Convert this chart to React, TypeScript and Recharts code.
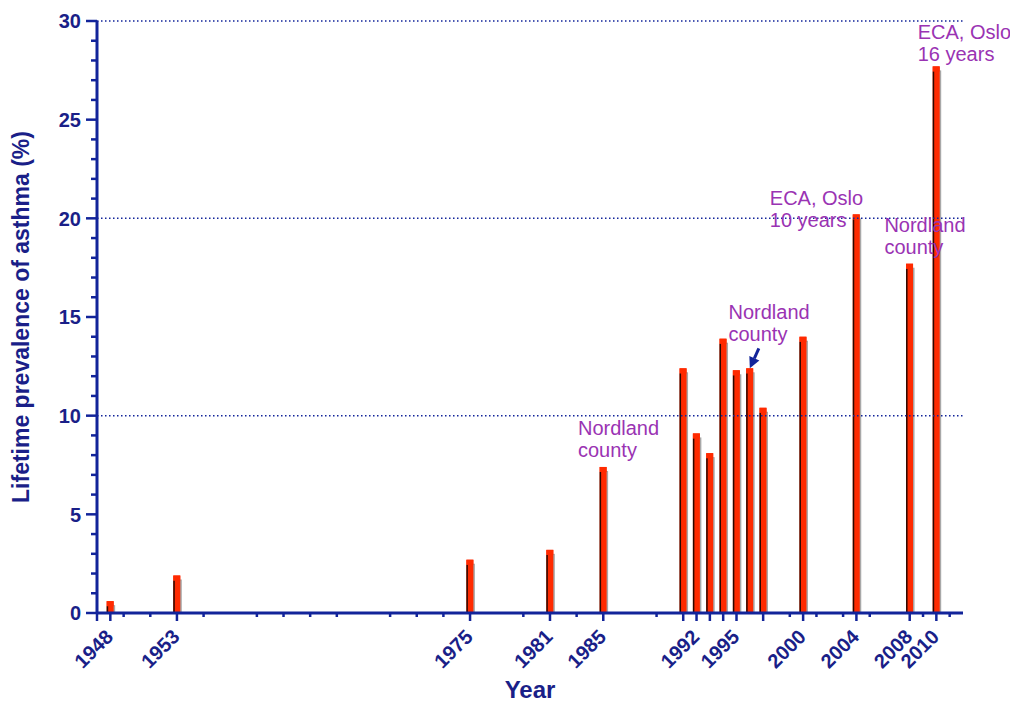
import {
  BarChart,
  Bar,
  XAxis,
  YAxis,
  ReferenceLine,
  ReferenceDot,
  Label,
} from "recharts";

// survey years and lifetime asthma prevalence (%)
const years = [1948, 1953, 1975, 1981, 1985, 1991, 1992, 1993, 1994, 1995, 1996, 1997, 2000, 2004, 2008, 2010];
const prevalence = [0.6, 1.9, 2.7, 3.2, 7.4, 12.4, 9.1, 8.1, 13.9, 12.3, 12.4, 10.4, 14.0, 20.2, 17.7, 27.7];

const labeledYears = [1948, 1953, 1975, 1981, 1985, 1992, 1995, 2000, 2004, 2008, 2010];
const majorTickYears = [1947, 1948, 1953, 1975, 1981, 1985, 1991, 1992, 1993, 1994, 1995, 1997, 2000, 2004, 2008, 2010];
const minorTickYears = [1949, 1951, 1955, 1959, 1961, 1963, 1965, 1969, 1971, 1973, 1979, 1983, 1989, 1999, 2001, 2003, 2005, 2009, 2011];
const yTicks = Array.from({ length: 31 }, (_, i) => i);
const gridValues = [10, 20, 30];

const notes = [
  { year: 1983.1, value: 9.0, lines: ["Nordland", "county"] },
  { year: 1994.4, value: 14.9, lines: ["Nordland", "county"] },
  { year: 1997.5, value: 20.7, lines: ["ECA, Oslo", "10 years"] },
  { year: 2006.1, value: 19.3, lines: ["Nordland", "county"] },
  { year: 2008.6, value: 29.1, lines: ["ECA, Oslo", "16 years"] },
];
const arrowTarget = { year: 1996, value: 12.4 };

const data = years.map((year, i) => ({ year, value: prevalence[i] }));
const xTicks = [...majorTickYears, ...minorTickYears].sort((a, b) => a - b);

const NAVY = "#12249a";
const TEXT = "#1a1f88";
const RED = "#ff2a00";
const PURPLE = "#9a33b3";
const FONT = "'Liberation Sans', Arial, sans-serif";

function BarShape(props: any) {
  const { x, y, width, height } = props;
  if (!height || height <= 0) return null;
  return (
    <g>
      <rect x={x + 1.5} y={y + 4} width={width} height={height - 4} fill="#a8a8a8" />
      <rect x={x} y={y} width={width} height={height} fill={RED} />
      <rect x={x} y={y + 5} width={1.5} height={height - 5} fill="#2a0800" />
      <rect x={x} y={y} width={width} height={5} fill={RED} />
    </g>
  );
}

function YTick(props: any) {
  const { x, y, payload } = props;
  const major = payload.value % 5 === 0;
  return (
    <g>
      <line x1={x - (major ? 11 : 6)} x2={x} y1={y} y2={y} stroke={NAVY} strokeWidth={2.5} />
      {major && (
        <text x={x - 16} y={y} dy="0.36em" textAnchor="end" fill={TEXT}
          style={{ fontFamily: FONT, fontWeight: 700, fontSize: 20 }}>
          {payload.value}
        </text>
      )}
    </g>
  );
}

function XTick(props: any) {
  const { x, y, payload } = props;
  const year = payload.value;
  const major = majorTickYears.includes(year);
  const labeled = labeledYears.includes(year);
  const tx = x + 4;
  const ty = y + 25;
  return (
    <g>
      <line x1={x} x2={x} y1={y} y2={y + (major ? 8 : 4)} stroke={NAVY} strokeWidth={2.5} />
      {labeled && (
        <text x={tx} y={ty} textAnchor="end" fill={TEXT} transform={`rotate(-45, ${tx}, ${ty})`}
          style={{ fontFamily: FONT, fontWeight: 700, fontSize: 20 }}>
          {year}
        </text>
      )}
    </g>
  );
}

function NoteShape(lines: string[]) {
  return (props: any) => {
    const { cx, cy } = props;
    return (
      <text x={cx} y={cy} fill={PURPLE} style={{ fontFamily: FONT, fontSize: 20 }}>
        {lines.map((t, i) => (
          <tspan key={i} x={cx} dy={i === 0 ? 0 : 22}>
            {t}
          </tspan>
        ))}
      </text>
    );
  };
}

function ArrowShape(props: any) {
  const { cx, cy } = props;
  const sx = cx + 9;
  const sy = cy - 20;
  const len = Math.hypot(sx - cx, sy - cy);
  const ux = (cx - sx) / len;
  const uy = (cy - sy) / len;
  const hb = 11;
  const hw = 5.5;
  const bx = cx - ux * hb;
  const by = cy - uy * hb;
  return (
    <g>
      <line x1={sx} y1={sy} x2={bx} y2={by} stroke={NAVY} strokeWidth={3} />
      <polygon
        points={`${cx},${cy} ${bx - uy * hw},${by + ux * hw} ${bx + uy * hw},${by - ux * hw}`}
        fill={NAVY}
      />
    </g>
  );
}

export default function App() {
  return (
    <div style={{ width: 1010, height: 702 }}>
      <style>{"body{margin:0;overflow:hidden}"}</style>
      <BarChart
        width={1010}
        height={702}
        data={data}
        margin={{ top: 21, right: 47, bottom: 29, left: 0 }}
      >
        {gridValues.map((v) => (
          <ReferenceLine key={v} y={v} stroke={NAVY} strokeWidth={1.5} strokeDasharray="1.5 2.5" />
        ))}
        <XAxis
          dataKey="year"
          type="number"
          domain={[1947, 2012]}
          ticks={xTicks}
          interval={0}
          height={60}
          tickSize={0}
          tickMargin={0}
          tickLine={false}
          tick={(p: any) => <XTick {...p} />}
          axisLine={{ stroke: NAVY, strokeWidth: 3 }}
        >
          <Label
            value="Year"
            position="bottom"
            offset={8}
            fill={TEXT}
            style={{ fontFamily: FONT, fontWeight: 700, fontSize: 24 }}
          />
        </XAxis>
        <YAxis
          type="number"
          domain={[0, 30]}
          ticks={yTicks}
          interval={0}
          width={97}
          tickSize={0}
          tickMargin={0}
          tickLine={false}
          tick={(p: any) => <YTick {...p} />}
          axisLine={{ stroke: NAVY, strokeWidth: 3 }}
        >
          <Label
            content={(p: any) => {
              const vb = p.viewBox;
              const cx = 21;
              const cy = vb.y + vb.height / 2;
              return (
                <text x={cx} y={cy} dy="0.36em" textAnchor="middle" fill={TEXT}
                  transform={`rotate(-90, ${cx}, ${cy})`}
                  style={{ fontFamily: FONT, fontWeight: 700, fontSize: 23 }}>
                  Lifetime prevalence of asthma (%)
                </text>
              );
            }}
          />
        </YAxis>
        <Bar dataKey="value" barSize={7} shape={BarShape} isAnimationActive={false} />
        {notes.map((n, i) => (
          <ReferenceDot key={i} x={n.year} y={n.value} r={0} shape={NoteShape(n.lines)} />
        ))}
        <ReferenceDot x={arrowTarget.year} y={arrowTarget.value} r={0} shape={ArrowShape} />
      </BarChart>
    </div>
  );
}
